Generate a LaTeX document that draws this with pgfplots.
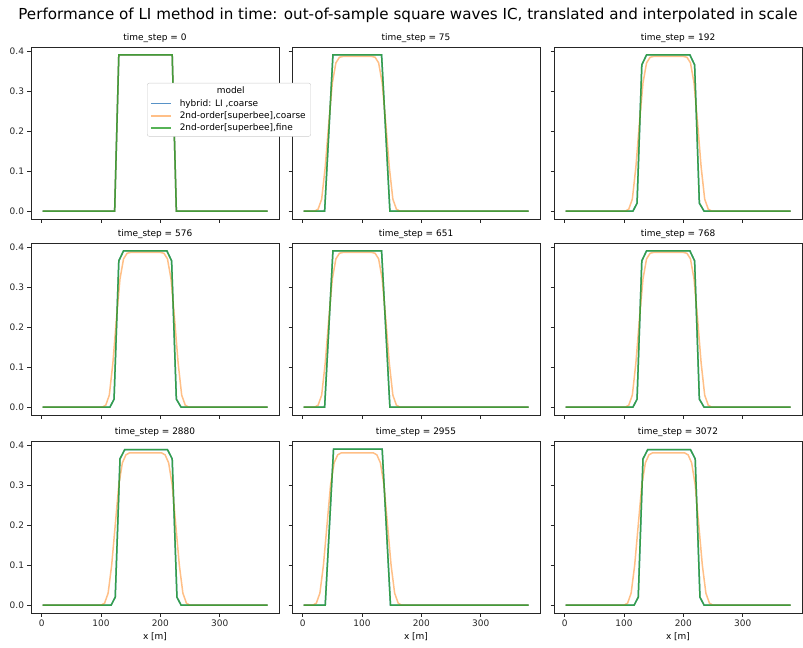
\documentclass[border=0pt]{standalone}
\usepackage{fontspec}
\setmainfont{DejaVu Sans}
\usepackage{calc}
\usepackage{pgfplots}
\usepackage{pgfplotstable}
\pgfplotsset{compat=1.18}

\definecolor{mblue}{HTML}{1F77B4}
\definecolor{morange}{HTML}{FF7F0E}
\definecolor{mgreen}{HTML}{2CA02C}
\definecolor{mbluel}{HTML}{5792C7}
\definecolor{morangel}{HTML}{FFBF87}
\definecolor{mgreenl}{HTML}{56B356}

% time_step = 0 : all three identical
\pgfplotstableread{
x y
1.5 0
123 0
130 0.39
220 0.39
227 0
381 0
}\tabZero
% fine solution, centred
\pgfplotstableread{
x y
1.5 0
115 0
122 0.02
130 0.365
138 0.39
211 0.39
219 0.365
227 0.02
235 0
381 0
}\tabGC
\pgfplotstableread{
x y
1.5 0
117 0
124 0.02
132 0.365
140 0.388
212 0.388
220 0.365
228 0.02
235 0
381 0
}\tabGCthree
% fine solution, translated
\pgfplotstableread{
x y
1.5 0
37 0
51 0.39
133 0.39
147 0
381 0
}\tabGT
\pgfplotstableread{
x y
1.5 0
38 0
52 0.389
134 0.389
148 0
381 0
}\tabGTthree
% coarse superbee, centred
\pgfplotstableread{
x y
1.5 0
102 0
108 0.005
114 0.03
120 0.11
126 0.22
132 0.32
138 0.37
144 0.384
150 0.386
200 0.386
206 0.384
212 0.37
218 0.32
224 0.22
230 0.11
236 0.03
242 0.005
248 0
381 0
}\tabOC
\pgfplotstableread{
x y
1.5 0
100 0
106 0.005
112 0.03
118 0.1
124 0.2
130 0.3
136 0.355
142 0.375
148 0.38
202 0.38
208 0.375
214 0.355
220 0.3
226 0.2
232 0.1
238 0.03
244 0.005
250 0
381 0
}\tabOCthree
% coarse superbee, translated
\pgfplotstableread{
x y
1.5 0
20 0
26 0.005
32 0.03
38 0.11
44 0.22
50 0.32
56 0.37
62 0.384
68 0.386
116 0.386
122 0.384
128 0.37
134 0.32
140 0.22
146 0.11
152 0.03
158 0.005
164 0
381 0
}\tabOT
\pgfplotstableread{
x y
1.5 0
17 0
23 0.005
29 0.03
35 0.1
41 0.2
47 0.3
53 0.355
59 0.375
65 0.38
119 0.38
125 0.375
131 0.355
137 0.3
143 0.2
149 0.1
155 0.03
161 0.005
167 0
381 0
}\tabOTthree

\pgfplotsset{
  panel/.style={
    scale only axis, width=248bp, height=172bp,
    anchor=north west,
    xmin=-18, xmax=400, ymin=-0.0195, ymax=0.4095,
    xtick={0,100,200,300}, ytick={0,0.1,0.2,0.3,0.4},
    tick align=outside, major tick length=3.5bp, tick pos=left,
    axis line style={line width=0.6bp, black!85},
    every tick/.style={black!85, line width=0.6bp},
    tick label style={font=\fontsize{9}{10}\selectfont, text=black!85},
    /pgf/number format/assume math mode=true,
    yticklabel style={/pgf/number format/.cd, fixed, fixed zerofill, precision=1},
    xticklabel style={/pgf/number format/.cd, fixed},
    title style={font=\fontsize{9}{10}\selectfont, yshift=-5bp},
    label style={font=\fontsize{9}{10}\selectfont},
    xlabel style={yshift=1bp},
  },
  noylab/.style={yticklabels={}},
  noxlab/.style={xticklabels={}},
  lb/.style={color=mblue, line width=1.5bp, draw opacity=0.75, no markers, sharp plot},
  lo/.style={color=morange, line width=1.5bp, draw opacity=0.5, no markers, sharp plot},
  lg/.style={color=mgreen, line width=1.5bp, draw opacity=0.8, no markers, sharp plot},
}

\begin{document}
\begin{tikzpicture}
\useasboundingbox (0,0) rectangle (803bp,-648bp);
\node[font=\fontsize{15.2}{17}\selectfont, anchor=center] at (408bp,-15bp)
  {Performance of LI method in time: out-of-sample square waves IC, translated and interpolated in scale};

% row 1
\begin{axis}[panel, noylab, noxlab, at={(292bp,-47bp)}, title={time\_step = 75}]
\addplot[lb] table {\tabGT};
\addplot[lo] table {\tabOT};
\addplot[lg] table {\tabGT};
\end{axis}
\begin{axis}[panel, noylab, noxlab, at={(554bp,-47bp)}, title={time\_step = 192}]
\addplot[lb] table {\tabGC};
\addplot[lo] table {\tabOC};
\addplot[lg] table {\tabGC};
\end{axis}
% row 2
\begin{axis}[panel, noxlab, at={(31bp,-243bp)}, title={time\_step = 576}]
\addplot[lb] table {\tabGC};
\addplot[lo] table {\tabOC};
\addplot[lg] table {\tabGC};
\end{axis}
\begin{axis}[panel, noylab, noxlab, at={(292bp,-243bp)}, title={time\_step = 651}]
\addplot[lb] table {\tabGT};
\addplot[lo] table {\tabOT};
\addplot[lg] table {\tabGT};
\end{axis}
\begin{axis}[panel, noylab, noxlab, at={(554bp,-243bp)}, title={time\_step = 768}]
\addplot[lb] table {\tabGC};
\addplot[lo] table {\tabOC};
\addplot[lg] table {\tabGC};
\end{axis}
% row 3
\begin{axis}[panel, at={(31bp,-441bp)}, title={time\_step = 2880}, xlabel={x [m]}]
\addplot[lb] table {\tabGCthree};
\addplot[lo] table {\tabOCthree};
\addplot[lg] table {\tabGCthree};
\end{axis}
\begin{axis}[panel, noylab, at={(292bp,-441bp)}, title={time\_step = 2955}, xlabel={x [m]}]
\addplot[lb] table {\tabGTthree};
\addplot[lo] table {\tabOTthree};
\addplot[lg] table {\tabGTthree};
\end{axis}
\begin{axis}[panel, noylab, at={(554bp,-441bp)}, title={time\_step = 3072}, xlabel={x [m]}]
\addplot[lb] table {\tabGCthree};
\addplot[lo] table {\tabOCthree};
\addplot[lg] table {\tabGCthree};
\end{axis}
% row 1, first panel last so that its legend lies on top
\begin{axis}[panel, noxlab, at={(31bp,-47bp)}, title={time\_step = 0},
  legend style={at={(0.468,0.791)}, anchor=north west, draw=black!20,
    rounded corners=2bp, fill=white,
    font=\fontsize{9}{11}\selectfont, inner xsep=3bp, inner ysep=2bp,
    column sep=6bp},
  legend cell align=left,
  legend image code/.code={\draw[#1] (0bp,0bp) -- (20bp,0bp);}]
\addplot[lb, forget plot] table {\tabZero};
\addplot[lo, forget plot] table {\tabZero};
\addplot[lg, forget plot] table {\tabZero};
\addlegendimage{empty legend}
\addlegendentry{\makebox[\widthof{2nd-order[superbee],coarse}]{\hspace{-24bp}model}}
\addlegendimage{mbluel, line width=1.5bp}
\addlegendentry{hybrid: LI ,coarse}
\addlegendimage{morangel, line width=1.5bp}
\addlegendentry{2nd-order[superbee],coarse}
\addlegendimage{mgreenl, line width=1.5bp}
\addlegendentry{2nd-order[superbee],fine}
\end{axis}
\end{tikzpicture}
\end{document}
